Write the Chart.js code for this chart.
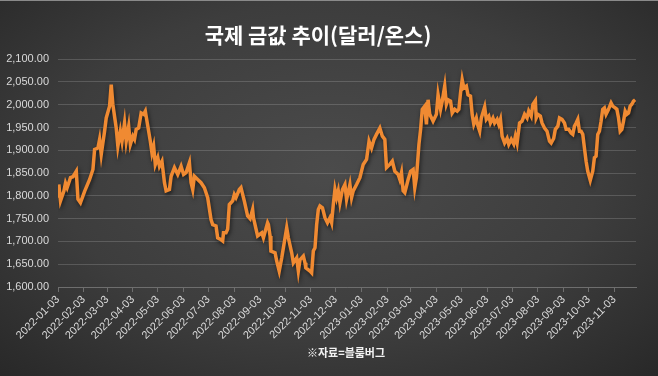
<!DOCTYPE html>
<html>
<head>
<meta charset="utf-8">
<script src="https://cdn.jsdelivr.net/npm/chart.js@4.4.0/dist/chart.umd.min.js"></script>
<style>
  html, body { margin: 0; padding: 0; }
  body {
    width: 658px; height: 376px; overflow: hidden;
    background: radial-gradient(ellipse 75% 80% at 50% 45%, #4b4b4b 0%, #3d3d3d 55%, #262626 100%);
  }
  #wrap { position: relative; width: 658px; height: 376px; border-top: 1px solid #8a8a8a; box-sizing: border-box; }
  canvas { position: absolute; left: 0; top: 0; }
</style>
</head>
<body>
<div id="wrap"><canvas id="goldChart" width="658" height="376"></canvas></div>
<script>
const titleText = '국제 금값 추이(달러/온스)';
const sourceText = '※자료=블룸버그';

const tickDates = [
  '2022-01-03', '2022-02-03', '2022-03-03', '2022-04-03', '2022-05-03', '2022-06-03',
  '2022-07-03', '2022-08-03', '2022-09-03', '2022-10-03', '2022-11-03', '2022-12-03',
  '2023-01-03', '2023-02-03', '2023-03-03', '2023-04-03', '2023-05-03', '2023-06-03',
  '2023-07-03', '2023-08-03', '2023-09-03', '2023-10-03', '2023-11-03'
];

// 2022 (달러/온스)
const dates2022 = [
  '2022-01-03', '2022-01-04', '2022-01-06', '2022-01-10', '2022-01-12', '2022-01-14', '2022-01-18', '2022-01-21',
  '2022-01-25', '2022-01-27', '2022-01-30', '2022-02-04', '2022-02-10', '2022-02-14', '2022-02-16', '2022-02-20',
  '2022-02-22', '2022-02-24', '2022-02-28', '2022-03-02', '2022-03-06', '2022-03-08', '2022-03-10', '2022-03-14',
  '2022-03-16', '2022-03-19', '2022-03-21', '2022-03-24', '2022-03-26', '2022-03-29', '2022-03-31', '2022-04-03',
  '2022-04-05', '2022-04-07', '2022-04-10', '2022-04-13', '2022-04-16', '2022-04-18', '2022-04-21', '2022-04-24',
  '2022-04-26', '2022-04-28', '2022-04-30', '2022-05-03', '2022-05-05', '2022-05-08', '2022-05-11', '2022-05-13',
  '2022-05-17', '2022-05-19', '2022-05-23', '2022-05-27', '2022-05-31', '2022-06-03', '2022-06-06', '2022-06-10',
  '2022-06-12', '2022-06-14', '2022-06-16', '2022-06-20', '2022-06-24', '2022-06-28', '2022-07-02', '2022-07-06',
  '2022-07-08', '2022-07-12', '2022-07-14', '2022-07-17', '2022-07-20', '2022-07-21', '2022-07-24', '2022-07-26',
  '2022-07-28', '2022-08-01', '2022-08-03', '2022-08-05', '2022-08-09', '2022-08-11', '2022-08-15', '2022-08-19',
  '2022-08-22', '2022-08-25', '2022-08-26', '2022-08-31', '2022-09-05', '2022-09-07', '2022-09-12', '2022-09-13',
  '2022-09-15', '2022-09-16', '2022-09-21', '2022-09-23', '2022-09-26', '2022-09-29', '2022-10-03', '2022-10-05',
  '2022-10-07', '2022-10-11', '2022-10-13', '2022-10-17', '2022-10-19', '2022-10-21', '2022-10-25', '2022-10-27',
  '2022-10-28', '2022-11-02', '2022-11-04', '2022-11-06', '2022-11-08', '2022-11-10', '2022-11-12', '2022-11-14',
  '2022-11-17', '2022-11-20', '2022-11-23', '2022-11-26', '2022-11-28', '2022-11-30', '2022-12-02', '2022-12-04',
  '2022-12-06', '2022-12-08', '2022-12-11', '2022-12-14', '2022-12-16', '2022-12-20', '2022-12-22', '2022-12-24',
  '2022-12-28'
];
const prices2022 = [
  1800, 1825, 1789, 1810, 1828, 1818, 1840, 1842,
  1854, 1793, 1785, 1810, 1836, 1858, 1902, 1905,
  1924, 1891, 1942, 1971, 1997, 2044, 2000, 1949,
  1909, 1942, 1920, 1960, 1920, 1953, 1913, 1931,
  1924, 1946, 1949, 1982, 1979, 1986, 1953, 1920,
  1894, 1909, 1869, 1884, 1865, 1876, 1829, 1811,
  1814, 1843, 1862, 1847, 1865, 1847, 1851, 1873,
  1829, 1814, 1843, 1836, 1829, 1818, 1796, 1748,
  1737, 1734, 1708, 1705, 1701, 1719, 1719, 1727,
  1781, 1789, 1803, 1796, 1814, 1818, 1789, 1756,
  1750, 1770, 1752, 1712, 1719, 1708, 1741, 1737,
  1712, 1679, 1675, 1657, 1635, 1664, 1708, 1730,
  1708, 1675, 1653, 1664, 1635, 1660, 1668, 1653,
  1642, 1635, 1631, 1679, 1686, 1737, 1770, 1778,
  1774, 1752, 1741, 1752, 1741, 1781, 1814, 1796,
  1811, 1785, 1814, 1825, 1792, 1825, 1796, 1811,
  1825
];

// 2023 (달러/온스)
const dates2023 = [
  '2023-01-01', '2023-01-05', '2023-01-09', '2023-01-12', '2023-01-15', '2023-01-18', '2023-01-21', '2023-01-25',
  '2023-01-28', '2023-01-31', '2023-02-02', '2023-02-06', '2023-02-09', '2023-02-12', '2023-02-16', '2023-02-18',
  '2023-02-20', '2023-02-22', '2023-02-24', '2023-02-28', '2023-03-03', '2023-03-06', '2023-03-08', '2023-03-10',
  '2023-03-13', '2023-03-15', '2023-03-17', '2023-03-20', '2023-03-22', '2023-03-24', '2023-03-26', '2023-03-30',
  '2023-04-03', '2023-04-05', '2023-04-08', '2023-04-10', '2023-04-13', '2023-04-15', '2023-04-17', '2023-04-20',
  '2023-04-22', '2023-04-25', '2023-04-28', '2023-04-30', '2023-05-02', '2023-05-04', '2023-05-06', '2023-05-09',
  '2023-05-11', '2023-05-14', '2023-05-16', '2023-05-18', '2023-05-21', '2023-05-23', '2023-05-25', '2023-05-27',
  '2023-05-31', '2023-06-02', '2023-06-05', '2023-06-07', '2023-06-10', '2023-06-12', '2023-06-15', '2023-06-17',
  '2023-06-19', '2023-06-21', '2023-06-24', '2023-06-27', '2023-06-29', '2023-07-02', '2023-07-05', '2023-07-07',
  '2023-07-09', '2023-07-12', '2023-07-15', '2023-07-18', '2023-07-21', '2023-07-23', '2023-07-26', '2023-07-28',
  '2023-07-31', '2023-08-01', '2023-08-03', '2023-08-06', '2023-08-08', '2023-08-11', '2023-08-14', '2023-08-17',
  '2023-08-19', '2023-08-22', '2023-08-24', '2023-08-27', '2023-08-29', '2023-09-01', '2023-09-04', '2023-09-06',
  '2023-09-09', '2023-09-12', '2023-09-14', '2023-09-16', '2023-09-18', '2023-09-20', '2023-09-22', '2023-09-24',
  '2023-09-26', '2023-09-28', '2023-09-30', '2023-10-02', '2023-10-05', '2023-10-08', '2023-10-10', '2023-10-12',
  '2023-10-14', '2023-10-16', '2023-10-18', '2023-10-20', '2023-10-22', '2023-10-24', '2023-10-27', '2023-10-30',
  '2023-11-01', '2023-11-04', '2023-11-06', '2023-11-08', '2023-11-10', '2023-11-12', '2023-11-14', '2023-11-16',
  '2023-11-18', '2023-11-20', '2023-11-22', '2023-11-24', '2023-11-26', '2023-11-28'
];
const prices2023 = [
  1840, 1869, 1880, 1920, 1905, 1924, 1935, 1949,
  1931, 1924, 1862, 1869, 1876, 1854, 1847, 1836,
  1851, 1811, 1807, 1836, 1854, 1858, 1818, 1840,
  1913, 1946, 1990, 1997, 1957, 2011, 1979, 1964,
  1979, 2022, 1990, 2008, 2041, 2001, 2011, 2008,
  1982, 1990, 1986, 1990, 2026, 2055, 2037, 2041,
  2022, 2019, 1979, 1957, 1971, 1953, 1942, 1971,
  1995, 1968, 1975, 1960, 1971, 1960, 1968, 1957,
  1968, 1931, 1916, 1926, 1913, 1924, 1914, 1931,
  1916, 1960, 1964, 1979, 1971, 1986, 1975, 2001,
  2009, 1971, 1979, 1975, 1960, 1949, 1942, 1920,
  1916, 1926, 1946, 1953, 1971, 1968, 1960, 1946,
  1946, 1938, 1935, 1953, 1960, 1968, 1942, 1942,
  1935, 1905, 1876, 1854, 1834, 1854, 1884, 1887,
  1935, 1942, 1964, 1990, 1993, 1979, 1990, 2004,
  1997, 1993, 1990, 1971, 1942, 1946, 1964, 1986,
  1979, 1982, 1997, 2001, 2008, 2011
];

const yMin = 1600;
const yMax = 2100;
const yStep = 50;

const dayMs = 86400000;
const startMs = Date.parse(tickDates[0] + 'T00:00:00Z');
const dayOf = s => (Date.parse(s + 'T00:00:00Z') - startMs) / dayMs;

const allDates = dates2022.concat(dates2023);
const allPrices = prices2022.concat(prices2023);
const points = allDates.map((d, i) => ({ x: dayOf(d), y: allPrices[i] }));
const lastDay = dayOf(allDates[allDates.length - 1]) + 1;

const labelColor = '#d9d9d9';
const lineShadow = {
  id: 'lineShadow',
  beforeDatasetsDraw(chart) {
    const c = chart.ctx;
    c.save();
    c.shadowColor = 'rgba(0,0,0,0.6)';
    c.shadowBlur = 4;
    c.shadowOffsetX = 1;
    c.shadowOffsetY = 2;
  },
  afterDatasetsDraw(chart) {
    chart.ctx.restore();
  }
};
const sourceNote = {
  id: 'sourceNote',
  afterDraw(chart) {
    const c = chart.ctx;
    c.save();
    c.font = 'bold 11px "Noto Sans CJK KR", sans-serif';
    c.fillStyle = '#f2f2f2';
    c.textAlign = 'center';
    c.textBaseline = 'middle';
    c.fillText(sourceText, 346, 352);
    c.restore();
  }
};

new Chart(document.getElementById('goldChart'), {
  type: 'line',
  data: {
    datasets: [{
      data: points,
      borderColor: '#f08a32',
      borderWidth: 3.5,
      pointRadius: 0,
      tension: 0,
      fill: false
    }]
  },
  options: {
    responsive: false,
    animation: false,
    devicePixelRatio: 1,
    layout: { padding: { left: 0, right: 22, top: 0, bottom: 0 } },
    plugins: {
      legend: { display: false },
      tooltip: { enabled: false },
      title: {
        display: true,
        text: titleText,
        color: '#ffffff',
        font: { family: '"Noto Sans CJK KR", sans-serif', size: 21, weight: 'bold' },
        padding: { top: 21, bottom: 12 }
      }
    },
    scales: {
      x: {
        type: 'linear',
        min: 0,
        max: lastDay,
        afterBuildTicks: scale => {
          scale.ticks = tickDates.map(d => ({ value: dayOf(d) }));
        },
        afterFit: scale => { scale.height = 90; },
        grid: { drawOnChartArea: false, drawTicks: true, tickLength: 5, color: '#6e6e6e' },
        border: { display: true, color: '#6e6e6e' },
        ticks: {
          autoSkip: false,
          minRotation: 45,
          maxRotation: 45,
          padding: 1,
          color: labelColor,
          font: { family: '"Liberation Sans", Arial, sans-serif', size: 11 },
          callback: (value, index) => tickDates[index]
        }
      },
      y: {
        min: yMin,
        max: yMax,
        afterFit: scale => { scale.width = 58; },
        grid: { color: 'rgba(255,255,255,0.16)', drawTicks: false },
        border: { display: false },
        ticks: {
          stepSize: yStep,
          padding: 9,
          color: labelColor,
          font: { family: '"Liberation Sans", Arial, sans-serif', size: 11 },
          callback: v => v.toLocaleString('en-US', { minimumFractionDigits: 2, maximumFractionDigits: 2 })
        }
      }
    }
  },
  plugins: [lineShadow, sourceNote]
});
</script>
</body>
</html>
